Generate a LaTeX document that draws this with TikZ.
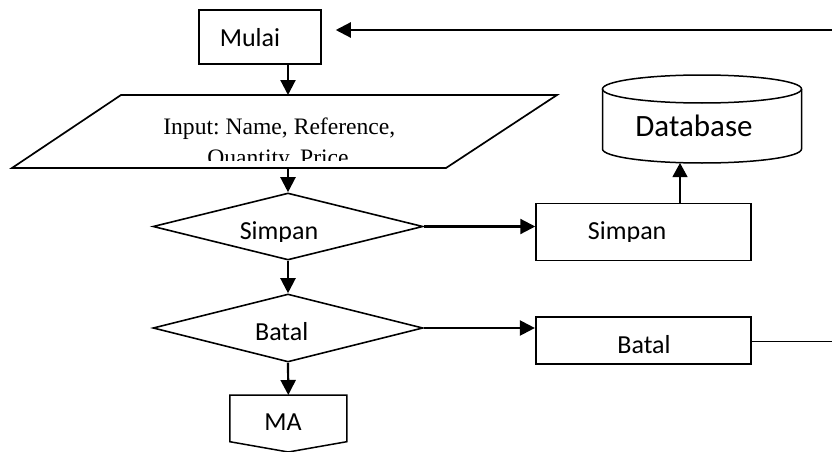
\documentclass[tikz,border=0pt]{standalone}
\usepackage{fontspec}
\setmainfont{Liberation Serif}
\newfontfamily\calib{Carlito}
\usetikzlibrary{arrows.meta,shapes.geometric,calc}
\frenchspacing
\begin{document}
\begin{tikzpicture}[x=1pt,y=-1pt,
  shp/.style={draw, line width=1.5pt, inner sep=0pt},
  hold/.style={inner sep=0pt, outer sep=0pt},
  dia/.style={diamond, draw, line width=1.6pt, inner sep=0pt, minimum width=270pt},
  lbl/.style={inner sep=0pt, anchor=base, font=\calib\fontsize{26}{30}\selectfont},
  tl/.style={inner sep=0pt, anchor=base, font=\fontsize{23.6}{28}\selectfont},
  arr/.style={line width=2.2pt, -{Triangle[length=15pt,width=15pt]}},
  thinarr/.style={line width=1.1pt, -{Triangle[length=14pt,width=15pt]}},
  ]
\useasboundingbox (0,0) rectangle (832,452);
% Mulai
\node[shp, minimum width=122pt, minimum height=54pt] (mulai) at (260,37) {};
\node[lbl] (mulait) at (250,46.7) {Mulai};
% Input parallelogram
\node[hold, minimum width=300pt, minimum height=73pt] (inp) at (288,131.5) {};
\draw[line width=1.7pt] (121,95) -- (557,95) -- (446,168) -- (12,168) -- cycle;
\begin{scope}
\clip (0,0) rectangle (832,160);
\node[tl] (in1) at (279.3,134.5) {Input: Name, Reference,};
\node[tl] (in2) at (278,165.6) {Quantity, Price};
\end{scope}
% Diamonds
\node[dia, minimum height=67pt] (sd) at (288,226.5) {};
\node[dia, minimum height=68pt] (bd) at (288,328) {};
\begin{scope}
\clip (0,0) rectangle (832,241);
\node[lbl] (sdt) at (279,239.3) {Simpan};
\node[lbl] (sbt) at (627.2,239.3) {Simpan};
\end{scope}
\node[lbl] (bdt) at (281.7,340.5) {Batal};
% Boxes
\node[shp, minimum width=215pt, minimum height=57.4pt] (sb) at (643.5,232) {};
\node[shp, line width=2.2pt, minimum width=215pt, minimum height=47.3pt] (bb) at (643.5,340.3) {};
\node[lbl] (bbt) at (644,353.3) {Batal};
% Database
\node[hold, minimum width=199pt, minimum height=88pt] (db) at (702,119) {};
\draw[line width=1.5pt] (602.5,89) -- (602.5,149) arc[start angle=180,end angle=0,x radius=99.5,y radius=14] -- (801.5,89);
\draw[line width=1.5pt] (702,89) ellipse [x radius=99.5, y radius=14];
\node[lbl, font=\calib\fontsize{31}{36}\selectfont] (dbt) at (694,136.7) {Database};
% MA off-page connector
\node[hold, minimum width=117pt, minimum height=57pt] (ma) at (288.3,423.5) {};
\draw[line width=1.5pt] (ma.north west) -- (ma.north east) -- ($(ma.south east)+(0,-10.3)$) -- (ma.south) -- ($(ma.south west)+(0,-10.3)$) -- cycle;
\node[lbl] (mat) at (283,430) {MA};
% Connectors
\draw[arr] (mulai.south -| inp.north) -- (inp.north);
\draw[arr] (inp.south) -- (sd.north);
\draw[arr] (sd.south) -- (bd.north);
\draw[arr] (bd.south) -- (ma.north);
\draw[arr] (sd.east) -- (sd.east -| sb.west);
\draw[arr] (bd.east) -- (bd.east -| bb.west);
\coordinate (eT) at (832,30);
\draw[arr, shorten >=14pt] (eT) -- (eT -| mulai.east);
\coordinate (dbin) at (680,0);
\draw[thinarr] (sb.north -| dbin) -- (db.south -| dbin);
\coordinate (eR) at (832,341.7);
\draw[line width=1.1pt] (bb.east |- eR) -- (eR);
\end{tikzpicture}
\end{document}
